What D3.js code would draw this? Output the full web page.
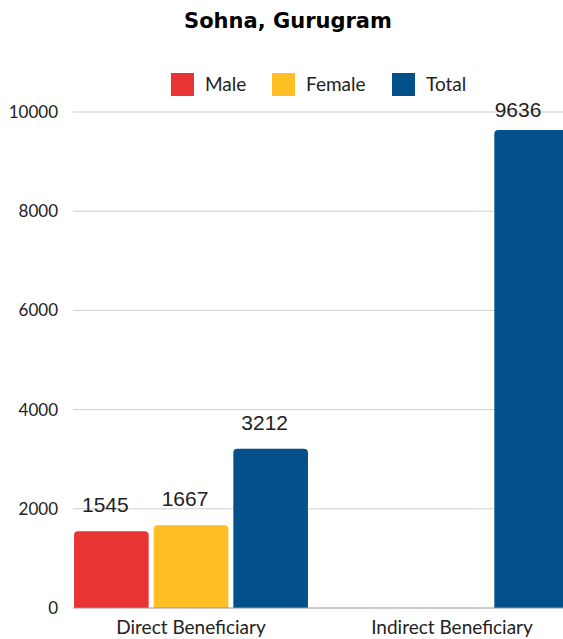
<!DOCTYPE html>
<html><head><meta charset="utf-8">
<script src="https://cdn.jsdelivr.net/npm/d3@7"></script>
<style>body{margin:0;background:#fff;overflow:hidden}svg{display:block}</style>
</head><body>
<script>
const categories = ["Direct Beneficiary", "Indirect Beneficiary"];
const seriesNames = ["Male", "Female", "Total"];
const maleValues = [1545, 0];
const femaleValues = [1667, 0];
const totalValues = [3212, 9636];
const yTicks = [0, 2000, 4000, 6000, 8000, 10000];
const colors = ["#E93434", "#FDBF24", "#03508A"];

const W = 563, H = 639;
const svg = d3.select("body").append("svg").attr("width", W).attr("height", H);
const left = 73, baseY = 608, topY = 112;

const y = d3.scaleLinear().domain([0, 10000]).range([baseY, topY]);
const x0 = d3.scaleBand().domain(categories).range([60.5, 582.5]);
const x1 = d3.scaleBand().domain(seriesNames).range([0, x0.bandwidth()]).paddingInner(0.063).paddingOuter(0.17);
const color = d3.scaleOrdinal().domain(seriesNames).range(colors);

// title
svg.append("text").attr("x", 288).attr("y", 28).attr("text-anchor", "middle")
  .attr("font-family", "'DejaVu Sans', sans-serif").attr("font-weight", 700)
  .attr("font-size", 21).attr("fill", "#000").text("Sohna, Gurugram");

// legend
const legendX = [171, 272, 392];
seriesNames.forEach((s, i) => {
  const g = svg.append("g").attr("transform", `translate(${legendX[i]},73)`);
  g.append("rect").attr("width", 23).attr("height", 23).attr("fill", color(s));
  g.append("text").attr("x", 34).attr("y", 18).attr("font-family", "Lato, 'Open Sans', sans-serif")
    .attr("font-size", 19).attr("fill", "#222").text(s);
});

// gridlines
svg.append("g").selectAll("line").data(yTicks.filter(t => t > 0)).join("line")
  .attr("x1", left).attr("x2", W).attr("y1", d => y(d)).attr("y2", d => y(d))
  .attr("stroke", "#cfcfcf").attr("stroke-width", 1);

// y axis labels
const yAxis = d3.axisLeft(y).tickValues(yTicks).tickSize(0).tickPadding(15).tickFormat(d3.format("d"));
const ya = svg.append("g").attr("transform", `translate(${left},0)`).call(yAxis);
ya.select(".domain").remove();
ya.selectAll("text").attr("font-family", "Lato, 'Open Sans', sans-serif").attr("font-size", 17).attr("fill", "#222");

// bars
const data = categories.map((c, i) => ({
  cat: c,
  vals: [{s: "Male", v: maleValues[i]}, {s: "Female", v: femaleValues[i]}, {s: "Total", v: totalValues[i]}]
}));
const r = 4;
function barPath(xp, w, yt, yb) {
  const h = yb - yt;
  if (h <= 0) return "";
  const rr = Math.min(r, h, w / 2);
  return `M${xp},${yb}V${yt + rr}Q${xp},${yt} ${xp + rr},${yt}H${xp + w - rr}Q${xp + w},${yt} ${xp + w},${yt + rr}V${yb}Z`;
}
const groups = svg.append("g").selectAll("g").data(data).join("g")
  .attr("transform", d => `translate(${x0(d.cat)},0)`);
groups.selectAll("path").data(d => d.vals.filter(v => v.v > 0)).join("path")
  .attr("d", d => barPath(x1(d.s), x1.bandwidth(), y(d.v), baseY))
  .attr("fill", d => color(d.s));
groups.selectAll("text").data(d => d.vals.filter(v => v.v > 0)).join("text")
  .attr("x", function(d) {
    const gx = x0(d3.select(this.parentNode).datum().cat);
    const cx = x1(d.s) + x1.bandwidth() / 2 - 6;
    return Math.min(cx, 518 - gx);
  })
  .attr("y", d => Math.max(y(d.v) - 19, 117))
  .attr("text-anchor", "middle").attr("font-family", "'Liberation Sans', Arial, sans-serif")
  .attr("font-size", 21).attr("fill", "#222").text(d => d.v);

// baseline
svg.append("line").attr("x1", left).attr("x2", W).attr("y1", baseY).attr("y2", baseY)
  .attr("stroke", "#999").attr("stroke-width", 1);

// x axis labels
const xAxis = d3.axisBottom(x0).tickSize(0).tickPadding(13);
const xa = svg.append("g").attr("transform", `translate(0,${baseY})`).call(xAxis);
xa.select(".domain").remove();
xa.selectAll("text").attr("font-family", "Lato, 'Open Sans', sans-serif").attr("font-size", 19).attr("fill", "#222");
</script>
</body></html>
